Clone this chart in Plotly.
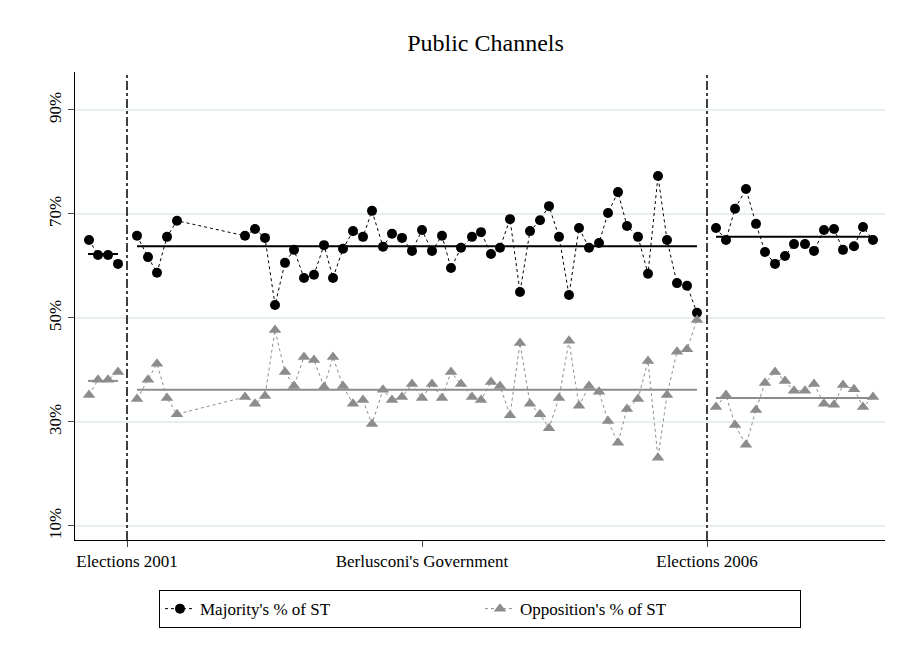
import plotly.graph_objects as go

x_maj = [89,98,108,118, 137,148,157,167,177,245,255,265,275,285,294,304,314,324,333,343,353,363,372,
         383,392,402,412,422,432,442,451,461,472,481,491,500,510,520,530,540,549,559,569,579,589,599,608,618,627,638,648,658,667,677,687,697,
         716,726,735,746,756,765,775,785,794,805,814,824,834,843,854,863,873]
majority = [65.0,62.1,62.1,60.4, 65.8,61.7,58.7,65.6,68.7,65.8,67.1,65.4,52.5,60.6,63.1,57.7,58.3,64.0,57.7,63.3,66.7,65.6,70.6,
            63.7,66.2,65.4,62.9,66.9,62.9,65.8,59.6,63.5,65.6,66.5,62.3,63.5,69.0,55.0,66.7,68.8,71.5,65.6,54.4,67.3,63.5,64.4,70.2,74.2,67.7,65.6,58.5,77.3,65.0,56.7,56.2,51.0,
            67.3,65.0,71.0,74.8,68.1,62.7,60.4,61.9,64.2,64.2,62.9,66.9,67.1,63.1,63.8,67.5,65.0]
opposition = [35.2,38.1,38.1,39.6, 34.4,38.1,41.2,34.6,31.5,34.8,33.5,35.0,47.7,39.6,36.9,42.5,41.9,36.7,42.5,36.9,33.5,34.2,29.6,
              36.2,34.2,34.8,37.3,34.6,37.3,34.6,39.6,37.3,34.8,34.2,37.7,36.9,31.3,45.2,33.5,31.5,28.8,34.6,45.6,33.1,36.9,35.8,30.2,26.0,32.5,34.4,41.7,23.1,35.2,43.5,44.0,49.6,
              32.9,35.2,29.4,25.6,32.3,37.5,39.6,37.9,36.0,36.0,37.3,33.5,33.3,37.1,36.3,32.9,34.8]
# period means: (start, end, majority mean, opposition mean)
periods = [(88,118,62.3,37.9),(137,697,63.8,36.2),(716,873,65.6,34.6)]
events_x = [127,707]
tick_x = [127,422,707]
tick_labels = ["Elections 2001","Berlusconi's Government","Elections 2006"]
y_ticks = [10,30,50,70,90]

def split(xs, ys):
    ox, oy = [], []
    for i,(a,b) in enumerate(zip(xs,ys)):
        if i>0 and any(xs[i-1] < e < a for e in events_x):
            ox.append(None); oy.append(None)
        ox.append(a); oy.append(b)
    return ox, oy

fig = go.Figure()
for (a,b,m,o) in periods:
    fig.add_trace(go.Scatter(x=[a,b],y=[m,m],mode="lines",line=dict(color="black",width=2),showlegend=False,hoverinfo="skip"))
    fig.add_trace(go.Scatter(x=[a,b],y=[o,o],mode="lines",line=dict(color="#8c8c8c",width=2),showlegend=False,hoverinfo="skip"))
mx, my = split(x_maj, majority)
ox, oy = split(x_maj, opposition)
fig.add_trace(go.Scatter(x=mx,y=my,mode="lines+markers",name="Majority's % of ST",connectgaps=False,
    line=dict(color="black",width=1,dash="dot"),marker=dict(symbol="circle",size=10,color="black")))
fig.add_trace(go.Scatter(x=ox,y=oy,mode="lines+markers",name="Opposition's % of ST",connectgaps=False,
    line=dict(color="#8c8c8c",width=1,dash="dot"),marker=dict(symbol="triangle-up",size=11,color="#8c8c8c")))
for ex in events_x:
    fig.add_vline(x=ex,line=dict(color="black",width=1.5,dash="dashdot"))

font = "Liberation Serif"
fig.update_layout(
    width=901,height=660,paper_bgcolor="white",plot_bgcolor="white",
    margin=dict(l=67,r=24,t=64,b=128,autoexpand=False),
    title=dict(text="Public Channels",x=0.53,y=0.947,xanchor="center",yanchor="middle",font=dict(family=font,size=24,color="black")),
    font=dict(family=font,size=17,color="black"),
    xaxis=dict(range=[75,885],tickvals=tick_x,ticktext=tick_labels,showgrid=False,zeroline=False,automargin=False,
               showline=True,linecolor="black",ticks="outside",ticklen=6,tickfont=dict(size=17)),
    yaxis=dict(range=[7.3,97.3],tickvals=y_ticks,ticktext=[f"{v}%" for v in y_ticks],tickangle=-90,automargin=False,
               showgrid=True,gridcolor="#e6eeee",gridwidth=1.5,zeroline=False,showline=True,linecolor="black",
               ticks="outside",ticklen=6,tickfont=dict(size=17)),
    legend=dict(orientation="h",x=0.5,xanchor="center",y=-0.107,yanchor="top",bordercolor="black",borderwidth=1,
                font=dict(size=17),entrywidth=275),
)
fig.write_html("out.html")
